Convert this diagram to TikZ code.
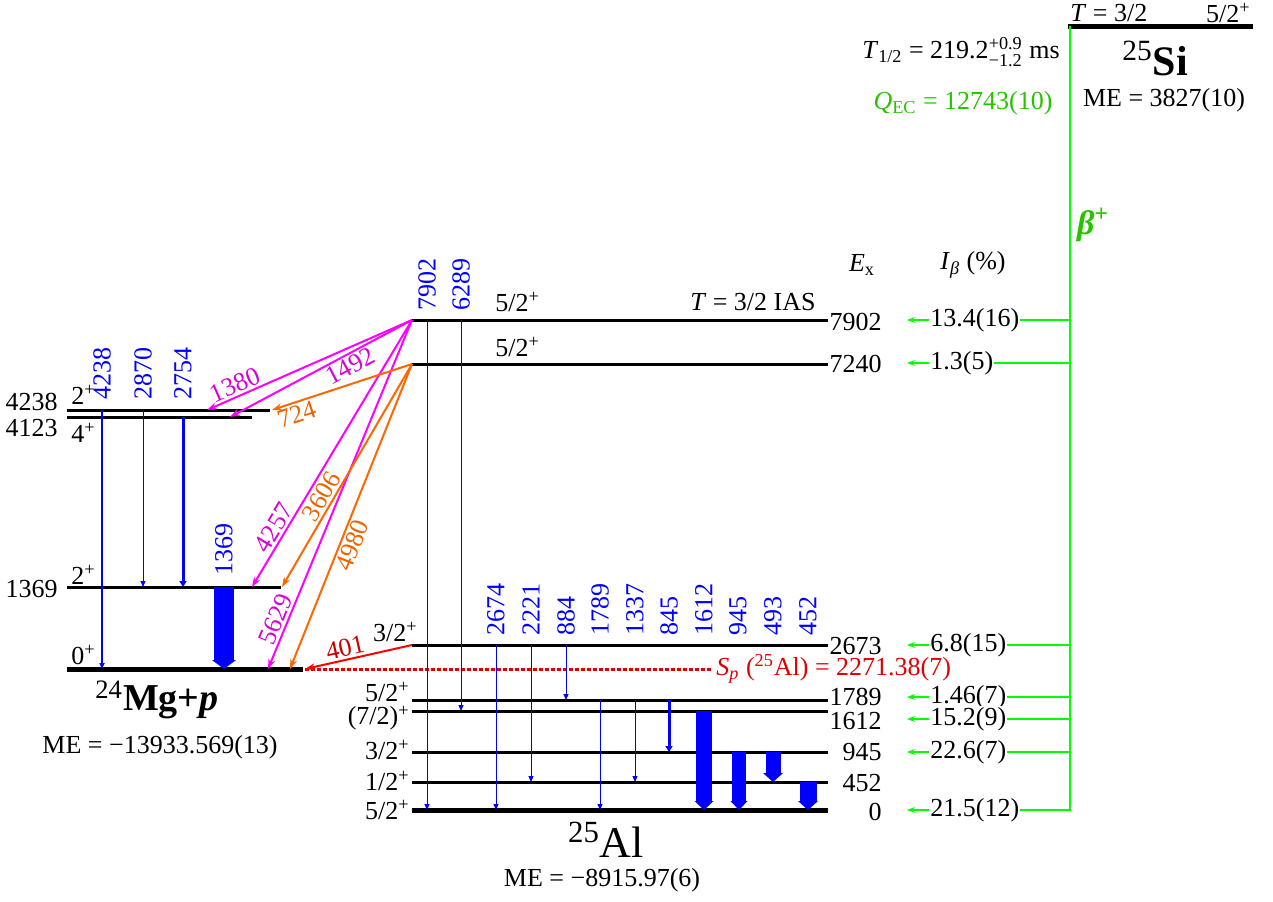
\documentclass[tikz,border=0pt]{standalone}
\usepackage{amsmath}
\usepackage{fontspec}
\setmainfont{Liberation Serif}
\usetikzlibrary{arrows.meta}
\definecolor{gblue}{RGB}{0,0,255}
\definecolor{pmag}{RGB}{255,0,255}
\definecolor{pmagtxt}{RGB}{215,0,215}
\definecolor{porange}{RGB}{255,102,0}
\definecolor{porangetxt}{RGB}{235,100,0}
\definecolor{bgreen}{RGB}{0,255,0}
\definecolor{qgreen}{RGB}{40,195,0}
\definecolor{spred}{RGB}{225,0,0}
\definecolor{pred}{RGB}{200,0,0}

\begin{document}
\begin{tikzpicture}[x=0.5pt,y=-0.5pt,
    font=\fontsize{13}{15.5}\selectfont,inner sep=1pt,
    lvl/.style={line width=1.5pt},
    gslvl/.style={line width=2.5pt},
    gam/.style={gblue,line width=0.5pt,-{Triangle[length=3pt,width=2.5pt]}},
    fat/.style n args={2}{gblue,line width=#1,-{Triangle[length=4.5pt,width=#2,line width=0pt]}},
    glab/.style={gblue,rotate=90,anchor=west},
    pgam/.style={pmag,line width=1pt,-{Stealth[length=5pt,width=3.5pt]}},
    ogam/.style={porange,line width=1pt,-{Stealth[length=5pt,width=3.5pt]}},
    plab/.style={pmagtxt,sloped},
    olab/.style={porangetxt,sloped},
    feed/.style={bgreen,line width=1pt,-{Stealth[length=4pt,width=3pt]}},
    ib/.style={anchor=west,fill=white,inner sep=0.5pt},
    elab/.style={anchor=east},
    jp/.style={anchor=east}]

  \useasboundingbox (0,0) rectangle (1273,901);

  % 25Si
  \coordinate (siL) at (1070,26);
  \coordinate (siR) at (1253,26);
  \draw[line width=2.5pt] ([xshift=-1pt]siL) -- (siR);
  \node[anchor=west] (siT) at (1068,13) {\textit{T} = 3/2};
  \node[anchor=east] (siJ) at (1253,13) {5/2\textsuperscript{+}};
  \node[font=\fontsize{21}{25}\selectfont\bfseries] (siname) at (1155,58) {\textsuperscript{\mdseries 25}Si};
  \node (sime) at (1164,100) {ME = 3827(10)};
  \node[anchor=east] (thalf) at (1062,52) {\textit{T}\textsubscript{1/2} = 219.2$^{\text{+0.9}}_{\text{−1.2}}$ ms};
  \node[qgreen] (qec) at (963,103) {\textit{Q}\textsubscript{EC} = 12743(10)};
  \node[qgreen,font=\fontsize{17}{20}\selectfont\bfseries\itshape] (beta) at (1093,225) {β\textsuperscript{+}};

  % beta feeding
  \coordinate (bbot) at (1070,811);
  \draw[bgreen,line width=1pt] (siL) -- (bbot);
  \foreach \y/\t in {320/13.4(16),363/1.3(5),645/6.8(15),697/1.46(7),719/15.2(9),752/22.6(7),810/21.5(12)}{
    \coordinate (fb\y) at (1070,\y);
    \coordinate (fe\y) at (907,\y);
    \draw[feed] (fb\y) -- (fe\y);
    \node[ib] (ib\y) at (929,\y) {\t};
  }
  \node (exhd) at (862,265) {\textit{E}\textsubscript{x}};
  \node (ibhd) at (973,265) {\textit{I}\textsubscript{\textit{β}} (\%)};

  % 25Al levels
  \foreach \n/\y in {7902/320,7240/364,2673/645,1789/700,1612/711,945/752,452/782}{
    \coordinate (a\n) at (412,\y);
    \coordinate (ar\n) at (828,\y);
    \draw[lvl] (a\n) -- (ar\n);
  }
  \coordinate (a0) at (412,810);
  \coordinate (ar0) at (828,810);
  \draw[gslvl] (a0) -- (ar0);
  \foreach \t/\y in {7902/322,7240/364,2673/646,1789/697,1612/721,945/752,452/783,0/812}
    \node[elab] (ex\t) at (884,\y) {\t};

  \node[anchor=west] (j7902) at (493,302) {5/2\textsuperscript{+}};
  \node[anchor=west] (j7240) at (493,347) {5/2\textsuperscript{+}};
  \node[anchor=east] (ias) at (818,302) {\textit{T} = 3/2 IAS};
  \node[jp] (j2673) at (420,632) {3/2\textsuperscript{+}};
  \node[jp] (j1789) at (412,692) {5/2\textsuperscript{+}};
  \node[jp] (j1612) at (412,718) {(7/2)\textsuperscript{+}};
  \node[jp] (j945) at (412,750) {3/2\textsuperscript{+}};
  \node[jp] (j452) at (412,781) {1/2\textsuperscript{+}};
  \node[jp] (j0) at (412,810) {5/2\textsuperscript{+}};

  \node[font=\fontsize{22}{26}\selectfont] (alname) at (606,840) {\textsuperscript{25}Al};
  \node (alme) at (602,880) {ME = −8915.97(6)};

  % 24Mg+p levels
  \coordinate (m4238) at (67,410);  \coordinate (mr4238) at (270,410);
  \coordinate (m4123) at (67,417);  \coordinate (mr4123) at (252,417);
  \coordinate (m1369) at (67,587);  \coordinate (mr1369) at (281,587);
  \coordinate (m0) at (67,669);     \coordinate (mr0) at (303,669);
  \draw[lvl] (m4238) -- (mr4238);
  \draw[lvl] (m4123) -- (mr4123);
  \draw[lvl] (m1369) -- (mr1369);
  \draw[gslvl] (m0) -- (mr0);
  \node[anchor=east] (em4238) at (60,402) {4238};
  \node[anchor=east] (em4123) at (60,428) {4123};
  \node[anchor=east] (em1369) at (60,589) {1369};
  \node[anchor=west] (jm4238) at (69,395) {2\textsuperscript{+}};
  \node[anchor=west] (jm4123) at (69,433) {4\textsuperscript{+}};
  \node[anchor=west] (jm1369) at (69,575) {2\textsuperscript{+}};
  \node[anchor=west] (jm0) at (69,655) {0\textsuperscript{+}};
  \node[font=\fontsize{19}{23}\selectfont\bfseries] (mgname) at (157,700) {\textsuperscript{\mdseries 24}Mg+\textit{p}};
  \node (mgme) at (160,747) {ME = −13933.569(13)};

  % Sp
  \coordinate (spL) at (305,669);
  \coordinate (spR) at (712,669);
  \draw[spred,line width=1.5pt,dash pattern=on 2pt off 1pt] (spL) -- (spR);
  \node[spred,anchor=west] (splab) at (714,669) {\textit{S}\textsubscript{\textit{p}} (\textsuperscript{25}Al) = 2271.38(7)};

  % gamma rays in 25Al
  \foreach \x/\a/\b/\t/\ly in {427/7902/0/7902/313,461/7902/1612/6289/313,496/2673/0/2674/638,
      531/2673/452/2221/638,566/2673/1789/884/638,600/1789/0/1789/638,635/1789/452/1337/638}{
    \draw[gam] (\x,0 |- a\a) -- (\x,0 |- a\b);
    \node[glab] (g\t) at (\x,\ly) {\t};
  }
  \draw[gam,line width=1.5pt,-{Triangle[length=3pt,width=3.5pt]}] (669,0 |- a1789) -- (669,0 |- a945);
  \draw[fat={8pt}{9.5pt}] (704,0 |- a1612) -- (704,0 |- a0);
  \draw[fat={7pt}{8.5pt}] (739,0 |- a945) -- (739,0 |- a0);
  \draw[fat={7.5pt}{10pt}] (773,0 |- a945) -- (773,0 |- a452);
  \draw[fat={8.5pt}{10pt}] (808,0 |- a452) -- (808,0 |- a0);
  \foreach \x/\t in {669/845,704/1612,738/945,773/493,808/452}
    \node[glab] (g\t) at (\x,638) {\t};

  % gamma rays in 24Mg
  \draw[gam,line width=1pt] (102,0 |- m4238) -- (102,0 |- m0);
  \draw[gam] (143,0 |- m4238) -- (143,0 |- m1369);
  \draw[gam,line width=1.5pt,-{Triangle[length=3pt,width=3.5pt]}] (183,0 |- m4123) -- (183,0 |- m1369);
  \draw[fat={10pt}{12pt}] (224,0 |- m1369) -- (224,0 |- m0);
  \node[glab] (gm4238) at (102,402) {4238};
  \node[glab] (gm2870) at (143,402) {2870};
  \node[glab] (gm2754) at (183,402) {2754};
  \node[glab] (gm1369) at (224,578) {1369};

  % protons
  \draw[pgam] (a7902) -- (207,0 |- m4238) node[plab,above,pos=0.84] {1380};
  \draw[pgam] (a7902) -- (230,0 |- m4123) node[plab,below,pos=0.37] {1492};
  \draw[pgam] (a7902) -- (252,0 |- m1369) node[plab,above,pos=0.8] {4257};
  \draw[pgam] (a7902) -- (268,0 |- m0) node[plab,above,pos=0.87] {5629};
  \draw[ogam] (a7240) -- (272,0 |- m4238) node[olab,below,pos=0.85] {724};
  \draw[ogam] (a7240) -- (282,0 |- m1369) node[olab,above,pos=0.62] {3606};
  \draw[ogam] (a7240) -- (290,0 |- m0) node[olab,below,pos=0.58] {4980};
  \draw[red,line width=1pt,-{Stealth[length=5pt,width=3.5pt]}] (a2673) -- (305,0 |- m0) node[pred,sloped,above,pos=0.6] {401};
\end{tikzpicture}
\end{document}
